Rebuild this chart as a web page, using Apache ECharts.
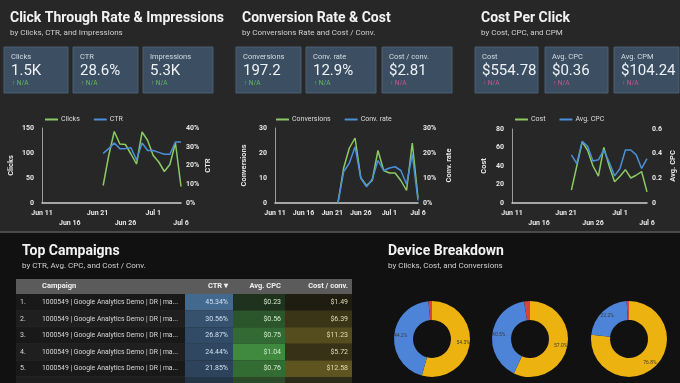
<!DOCTYPE html>
<html><head><meta charset="utf-8">
<script src="https://cdn.jsdelivr.net/npm/echarts@6/dist/echarts.min.js"></script>
<style>html,body{margin:0;padding:0;background:#121212}#c{width:680px;height:383px}</style>
</head><body><div id="c"></div>
<script>
// ---------- DATA ----------
const dates = ['Jun 11','Jun 12','Jun 13','Jun 14','Jun 15','Jun 16','Jun 17','Jun 18','Jun 19','Jun 20','Jun 21','Jun 22','Jun 23','Jun 24','Jun 25','Jun 26','Jun 27','Jun 28','Jun 29','Jun 30','Jul 1','Jul 2','Jul 3','Jul 4','Jul 5','Jul 6'];
const N = null;
const clicks = [N,N,N,N,N,N,N,N,N,N,N, 35,95,143,118,117,98,78,142,125,95,82,63,77,120,33];
const ctr = [N,N,N,N,N,N,N,N,N,N,N, 26.5,29,32,29,29,29.5,23,32,28,28,27,26,26,32.5,32.5];
const conversions = [N,N,N,N,N,N,N,N,N,N,N, 0,14,22,26,10,7,9,21,13,12,12,9,5,24,2];
const convRate = [N,N,N,N,N,N,N,N,N,N,N, 0,12.5,16,22.5,10,6.5,9.5,17,13,14,14.5,13,7.5,19.5,1];
const cost = [N,N,N,N,N,N,N,N,N,N,N, 14,40,66,57,40,29,60,40,23,29,36,27,30,34,12];
const avgCpc = [N,N,N,N,N,N,N,N,N,N,N, 0.39,0.32,0.50,0.46,0.34,0.35,0.43,0.33,0.22,0.28,0.43,0.43,0.39,0.28,0.36];

const panelTitles = ['Click Through Rate & Impressions','Conversion Rate & Cost','Cost Per Click'];
const panelSubs = ['by Clicks, CTR, and Impressions','by Conversions Rate and Cost / Conv.','by Cost, CPC, and CPM'];
const kpiLabels = [['Clicks','CTR','Impressions'],['Conversions','Conv. rate','Cost / conv.'],['Cost','Avg. CPC','Avg. CPM']];
const kpiValues = [['1.5K','28.6%','5.3K'],['197.2','12.9%','$2.81'],['$554.78','$0.36','$104.24']];
const kpiDelta = [['N/A','N/A','N/A'],['N/A','N/A','N/A'],['N/A','N/A','N/A']];
const kpiGood = [[true,true,true],[true,true,false],[false,false,false]];

const tableHeader = ['Campaign','CTR ▾','Avg. CPC','Cost / conv.'];
const campaigns = ['1000549 | Google Analytics Demo | DR | ma...','1000549 | Google Analytics Demo | DR | ma...','1000549 | Google Analytics Demo | DR | ma...','1000549 | Google Analytics Demo | DR | ma...','1000549 | Google Analytics Demo | DR | ma...'];
const campCtr = [45.34,30.56,26.87,24.44,21.85];
const campCpc = [0.23,0.56,0.75,1.04,0.76];
const campCostConv = [1.49,6.39,11.23,5.72,12.58];

const deviceNames = ['Mobile','Desktop','Tablet'];
const deviceClicks = [54.3,44.2,1.5];
const deviceCost = [57.0,40.5,2.5];
const deviceConv = [76.8,22.2,1.0];

// ---------- STYLE ----------
const FONT = 'Roboto, "Noto Sans", sans-serif';
const GREEN = '#8cc965', BLUE = '#4a8fd8';
const chart = echarts.init(document.getElementById('c'), null, {renderer:'canvas'});

function txt(x,y,text,size,color,weight,align,z){
  return {type:'text', silent:true, z:z||5, style:{x:x,y:y,text:text,fill:color,
    font:(weight||'normal')+' '+size+'px '+FONT, align:align||'left', verticalAlign:'middle',
    textAlign:align||'left', textVerticalAlign:'middle'}};
}
function rect(x,y,w,h,color,z,stroke){
  return {type:'rect', silent:true, z:z||0, shape:{x:x,y:y,width:w,height:h},
    style:{fill:color, stroke:stroke||null, lineWidth:stroke?1:0}};
}
function mix(a,b,t){
  const pa=[1,3,5].map(i=>parseInt(a.substr(i,2),16)), pb=[1,3,5].map(i=>parseInt(b.substr(i,2),16));
  return 'rgb('+pa.map((v,i)=>Math.round(v+(pb[i]-v)*t)).join(',')+')';
}

const g = [];
// backgrounds
g.push(rect(0,0,680,233,'#272727',-10));
g.push(rect(0,233,680,150,'#111111',-10));
g.push(rect(0,231,680,2,'#4a4a4a',-9));

// top panels
const titleX = [10,242,481];
const cards = [[[4,64],[73,65],[143,70]],[[236,65],[306,70],[382,70]],[[475,63],[545,63],[614,65]]];
for(let p=0;p<3;p++){
  g.push(txt(titleX[p],18,panelTitles[p],14,'#f2f2f2','bold'));
  g.push(txt(titleX[p],33,panelSubs[p],8,'#cfcfcf'));
  for(let k=0;k<3;k++){
    const [cx,cw]=cards[p][k];
    g.push(rect(cx,47,cw,46,'#3c4f62',0,'#4b5f73'));
    g.push(txt(cx+7,57,kpiLabels[p][k],7.5,'#d4dbe2'));
    g.push(txt(cx+7,71,kpiValues[p][k],15,'#eef2f6'));
    g.push(txt(cx+8,83,'↑ '+kpiDelta[p][k],6.5,kpiGood[p][k]?'#62b862':'#c7578f'));
  }
}

// bottom titles
g.push(txt(22,251,'Top Campaigns',14,'#f2f2f2','bold'));
g.push(txt(22,266,'by CTR, Avg. CPC, and Cost / Conv.',8,'#cfcfcf'));
g.push(txt(388,251,'Device Breakdown',14,'#f2f2f2','bold'));
g.push(txt(388,266,'by Clicks, Cost, and Conversions',8,'#cfcfcf'));

// table
const tX=16, tW=336, hdrY=279, hdrH=15, rowH=16.6;
const colCtr=[185,48], colCpc=[233,52], colCost=[285,67];
g.push(rect(tX,hdrY,tW,hdrH,'#5b5b5b',1));
g.push(txt(42,hdrY+hdrH/2,tableHeader[0],7.5,'#f0f0f0','bold'));
g.push(txt(colCtr[0]+colCtr[1]-5,hdrY+hdrH/2,tableHeader[1],7.5,'#f0f0f0','bold','right'));
g.push(txt(colCpc[0]+colCpc[1]-4,hdrY+hdrH/2,tableHeader[2],7.5,'#f0f0f0','bold','right'));
g.push(txt(colCost[0]+colCost[1]-4,hdrY+hdrH/2,tableHeader[3],7.5,'#f0f0f0','bold','right'));
const ctrMax=Math.max(...campCtr), cpcMax=Math.max(...campCpc), ccMax=Math.max(...campCostConv);
for(let r=0;r<6;r++){
  const y=hdrY+hdrH+r*rowH;
  g.push(rect(tX,y,tW,rowH,r%2?'#1f1f1f':'#191919',1));
  g.push(rect(tX,y+rowH-0.5,tW,0.5,'#2c2c2c',2));
  if(r<campaigns.length){
    g.push(rect(colCtr[0],y,colCtr[1],rowH,mix('#16202b','#44698f',campCtr[r]/ctrMax),2));
    g.push(rect(colCpc[0],y,colCpc[1],rowH,mix('#141914','#3f8a3f',campCpc[r]/cpcMax),2));
    g.push(rect(colCost[0],y,colCost[1],rowH,mix('#161510','#5e5420',campCostConv[r]/ccMax),2));
    const cy=y+rowH/2;
    g.push(txt(20,cy,(r+1)+'.',7,'#d8d8d8'));
    g.push(txt(42,cy,campaigns[r],6.8,'#d8d8d8'));
    g.push(txt(colCtr[0]+colCtr[1]-5,cy,campCtr[r].toFixed(2)+'%',7,'#cfe0f2','normal','right'));
    g.push(txt(colCpc[0]+colCpc[1]-4,cy,'$'+campCpc[r].toFixed(2),7,'#d6e8cf','normal','right'));
    g.push(txt(colCost[0]+colCost[1]-4,cy,'$'+campCostConv[r].toFixed(2),7,'#e4dcb4','normal','right'));
  } else {
    g.push(rect(colCtr[0],y,colCtr[1],rowH,'#243548',2));
    g.push(rect(colCpc[0],y,colCpc[1],rowH,'#2a4a2a',2));
    g.push(rect(colCost[0],y,colCost[1],rowH,'#2c2a18',2));
  }
}

// ---------- LINE CHARTS ----------
const grids=[{left:42,top:128,width:139,height:75},{left:275,top:128,width:143,height:75},{left:512,top:129,width:135,height:74}];
const stagger=[true,false,true];
const axisTxt={color:'#e6e6e6',fontSize:7,fontWeight:'bold',fontFamily:FONT};
const xAxes=grids.map((gr,i)=>({type:'category',gridIndex:i,data:dates,boundaryGap:false,
  axisLine:{lineStyle:{color:'#d0d0d0',width:1.5}},axisTick:{show:false},
  axisLabel:Object.assign({},axisTxt,{margin:5,lineHeight:10,interval:(idx)=>idx%5===0,
    formatter:(v,idx)=>(stagger[i]&&idx%10===5)?'\n'+v:v})}));
const yDefs=[
  [{max:150,interval:50,name:'Clicks',fmt:'{value}',gap:27},{max:40,interval:10,name:'CTR',fmt:'{value}%',gap:23}],
  [{max:30,interval:10,name:'Conversions',fmt:'{value}',gap:27},{max:30,interval:10,name:'Conv. rate',fmt:'{value}%',gap:27}],
  [{max:80,interval:20,name:'Cost',fmt:'{value}',gap:24},{max:0.6,interval:0.2,name:'Avg. CPC',fmt:'{value}',gap:22}]
];
const yAxes=[];
yDefs.forEach((pair,i)=>{
  pair.forEach((d,j)=>{
    yAxes.push({type:'value',gridIndex:i,position:j?'right':'left',min:0,max:d.max,interval:d.interval,
      name:d.name,nameLocation:'middle',nameRotate:90,nameGap:d.gap,
      nameTextStyle:{color:'#e6e6e6',fontSize:7.5,fontWeight:'bold',fontFamily:FONT},
      axisLine:{show:j===0,lineStyle:{color:'#9a9a9a',width:1}},axisTick:{show:false},splitLine:{show:false},
      axisLabel:Object.assign({},axisTxt,{margin:j?5:8,formatter:d.fmt})});
  });
});
const seriesDefs=[['Clicks',clicks],['CTR',ctr],['Conversions',conversions],['Conv. rate',convRate],['Cost',cost],['Avg. CPC',avgCpc]];
const series=[];
seriesDefs.forEach((s,k)=>{
  const gi=Math.floor(k/2);
  series.push({type:'line',name:s[0],data:s[1],xAxisIndex:gi,yAxisIndex:k,showSymbol:false,
    connectNulls:false,lineStyle:{width:1.5,color:k%2?BLUE:GREEN},itemStyle:{color:k%2?BLUE:GREEN},z:k%2?3:2});
});
const legendPos=[40,271,510];
const legends=[0,1,2].map(i=>({data:[seriesDefs[2*i][0],seriesDefs[2*i+1][0]],left:legendPos[i],top:111,
  icon:'roundRect',itemWidth:13,itemHeight:2,itemGap:14,textStyle:{color:'#dcdcdc',fontSize:7,fontFamily:FONT,padding:[0,0,0,-2]}}));

// ---------- PIES ----------
const pieColors=['#ecb20f','#4d84d8','#d4463a'];
const pieCenters=[[432,339],[530,339],[629,339]];
[deviceClicks,deviceCost,deviceConv].forEach((vals,i)=>{
  series.push({type:'pie',center:pieCenters[i],radius:[19,38],startAngle:90,clockwise:true,silent:true,
    color:pieColors,
    data:vals.map((v,k)=>({name:deviceNames[k],value:v})),
    label:{show:true,position:'inside',color:'#3a3a3a',fontSize:5,fontFamily:FONT,
      formatter:(p)=>p.value>5?p.value.toFixed(1)+'%':''},
    labelLine:{show:false},itemStyle:{borderWidth:0}});
});

chart.setOption({
  backgroundColor:'#121212',
  animation:false,
  textStyle:{fontFamily:FONT},
  graphic:{elements:g},
  legend:legends,
  grid:grids,
  xAxis:xAxes,
  yAxis:yAxes,
  series:series
});
</script></body></html>
